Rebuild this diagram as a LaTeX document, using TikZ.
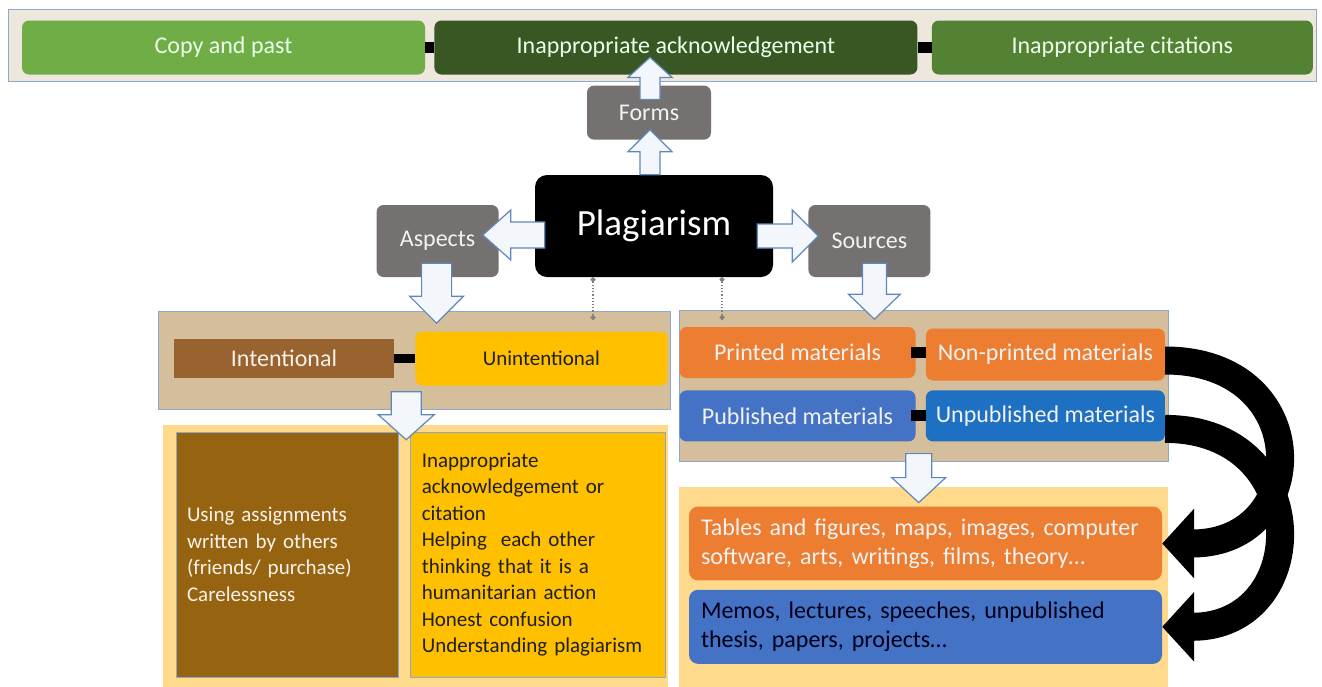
\documentclass[tikz,border=0pt]{standalone}
\usepackage{fontspec}
\setmainfont{Carlito}
\usepackage{tikz}
\usetikzlibrary{arrows.meta,positioning,calc}

\definecolor{bandbg}{RGB}{238,231,221}
\definecolor{frameblue}{RGB}{140,168,204}
\definecolor{lightgreen}{RGB}{112,173,71}
\definecolor{darkgreen}{RGB}{56,87,35}
\definecolor{midgreen}{RGB}{84,130,53}
\definecolor{boxgray}{RGB}{118,113,113}
\definecolor{tanbg}{RGB}{212,190,155}
\definecolor{brownlight}{RGB}{153,99,47}
\definecolor{browndark}{RGB}{150,100,16}
\definecolor{gold}{RGB}{255,192,0}
\definecolor{paleyellow}{RGB}{255,217,140}
\definecolor{srcorange}{RGB}{237,125,49}
\definecolor{srcblue}{RGB}{68,114,196}
\definecolor{srcdeepblue}{RGB}{30,112,195}
\definecolor{arrowline}{RGB}{96,135,188}
\definecolor{arrowfill}{RGB}{243,247,252}

% block arrow: tail, angle, length, shaft half width, head half width, head length
\newcommand\blockarrow[6]{%
  \draw[blockarr, shift={#1}, rotate=#2]
    (0,-#4) -- (#3-#6,-#4) -- (#3-#6,-#5) -- (#3,0) -- (#3-#6,#5) -- (#3-#6,#4) -- (0,#4) -- cycle;}

\tikzset{
  box/.style={rounded corners=7pt, inner sep=0pt, font=\fontsize{24}{29}\selectfont},
  greenbox/.style={box, minimum height=54pt, text=white!92!green},
  graybox/.style={box, fill=boxgray, text=white!95!black, minimum width=122pt, minimum height=72pt},
  srcbox/.style={box, minimum width=236pt, minimum height=51pt, text=white!95!black},
  listbox/.style={draw=frameblue, line width=0.8pt, inner sep=11pt, align=left,
    minimum height=245pt, font=\fontsize{21}{26.5}\selectfont},
  widebox/.style={box, rounded corners=9pt, inner sep=12pt, text width=449pt, align=left,
    minimum height=73pt},
  panel/.style={fill=tanbg, draw=frameblue, line width=0.8pt},
  blockarr/.style={draw=arrowline, fill=arrowfill, line width=1.2pt, line join=miter}
}

\begin{document}
\begin{tikzpicture}[x=1pt,y=-1pt,
  link/.style={line width=11pt},
  dotlink/.style={gray, dotted, line width=1.2pt, {Circle[length=5pt]}-{Circle[length=5pt]}},
  bigcurve/.style={line width=28pt, -{Triangle[length=32pt,width=68pt]}}]
\useasboundingbox (0,0) rectangle (1322,686);

% panels
\draw[fill=bandbg, draw=frameblue, line width=0.8pt] (8,9) rectangle (1316,81);
\draw[panel] (158,311) rectangle (670,409);
\fill[paleyellow] (163,425) rectangle (668,690);
\draw[panel] (679,310) rectangle (1168,461);
\fill[paleyellow] (679,487) rectangle (1168,690);

% forms
\node[greenbox, fill=lightgreen, minimum width=403pt] (copy) at (223.5,47.5) {Copy and past};
\node[greenbox, fill=darkgreen, minimum width=483pt] (ack) [right=9pt of copy] {Inappropriate acknowledgement};
\node[greenbox, fill=midgreen, minimum width=381pt] (cite) [right=14pt of ack] {Inappropriate citations};

% centre
\node[box, fill=black, text=white, rounded corners=12pt, minimum width=238pt, minimum height=102pt,
  font=\fontsize{37}{44}\selectfont] (plag) at (654,226) {Plagiarism};
\node[graybox, minimum width=124pt, minimum height=54pt] (forms) [above=35pt of plag, xshift=-5pt] {Forms};
\node[graybox] (aspects) [left=36pt of plag.south west, anchor=south east] {Aspects};
\node[graybox] (sources) [right=35pt of plag.south east, anchor=south west] {Sources};

% aspects
\node[box, rounded corners=0pt, fill=brownlight, text=white!88!brown, minimum width=220pt,
  minimum height=39pt] (intent) at (284,358.5) {Intentional};
\node[box, fill=gold, text=black!88, minimum width=252pt, minimum height=54pt,
  font=\fontsize{21}{26}\selectfont] (unint) [right=21pt of intent] {Unintentional};
\node[listbox, fill=browndark, text=white!90!brown, text width=200pt] (brownbox) at (287,554.5)
  {Using assignments\\ written by others\\ (friends/ purchase)\\ Carelessness};
\node[listbox, fill=gold, text=black!88, text width=233pt] (yellowbox) [right=12pt of brownbox]
  {Inappropriate\\ acknowledgement or\\ citation\\ Helping\ \ each other\\ thinking that it is a\\
   humanitarian action\\ Honest confusion\\ Understanding plagiarism};

% sources
\node[srcbox, fill=srcorange] (printed) at (797.5,352.5) {Printed materials};
\node[srcbox, fill=srcorange, minimum width=239pt, minimum height=52pt] (nonprinted) [right=10pt of printed, yshift=-2pt] {Non-printed materials};
\node[srcbox, fill=srcblue] (published) [below=12pt of printed] {Published materials};
\node[srcbox, fill=srcdeepblue, minimum width=239pt] (unpublished) [right=10pt of published] {Unpublished materials};
\node[widebox, fill=srcorange, text=white!95!black] (tables) at (925.5,543.5)
  {Tables and figures, maps, images, computer\\ software, arts, writings, films, theory…};
\node[widebox, fill=srcblue, text=black!90!blue, minimum height=74pt] (memos) [below=9pt of tables]
  {Memos, lectures, speeches, unpublished\\ thesis, papers, projects…};

% connectors
\draw[link] (copy.east) -- (ack.west);
\draw[link] (ack.east) -- (cite.west);
\draw[link, line width=9pt] (intent.east) -- (intent.east -| unint.west);
\draw[link] ([xshift=-5pt]printed.east) -- (printed.east -| nonprinted.west);
\draw[link] ([xshift=-5pt]published.east) -- (unpublished.west);

\coordinate (dl) at (593,320);
\coordinate (dr) at (722,320);
\draw[dotlink] (plag.south -| dl) -- (dl);
\draw[dotlink] (plag.south -| dr) -- (dr);

\blockarrow{($(forms.north)+(1,14)$)}{90}{42}{10}{22}{20}
\blockarrow{($(plag.north)+(-4,0)$)}{90}{45}{10}{22}{22}
\blockarrow{($(plag.west)+(10,9)$)}{180}{62}{13}{25}{28}
\blockarrow{($(plag.east)+(-16,10)$)}{0}{61}{12}{26}{26}
\blockarrow{($(aspects.south)+(-1,-14)$)}{-90}{60}{15}{27}{27}
\blockarrow{($(sources.south)+(5,-14)$)}{-90}{56}{12}{26}{25}
\blockarrow{($(unint.south west)+(-9,6)$)}{-90}{48}{15}{28}{25}
\blockarrow{($(published.south east)+(3,12)$)}{-90}{49}{13}{27}{25}

\draw[bigcurve] ([yshift=-6pt]nonprinted.east) .. controls +(150,0) and +(150,0) .. (tables.east);
\draw[bigcurve] ([yshift=-13pt]unpublished.east) .. controls +(150,0) and +(150,0) .. (memos.east);
\end{tikzpicture}
\end{document}
